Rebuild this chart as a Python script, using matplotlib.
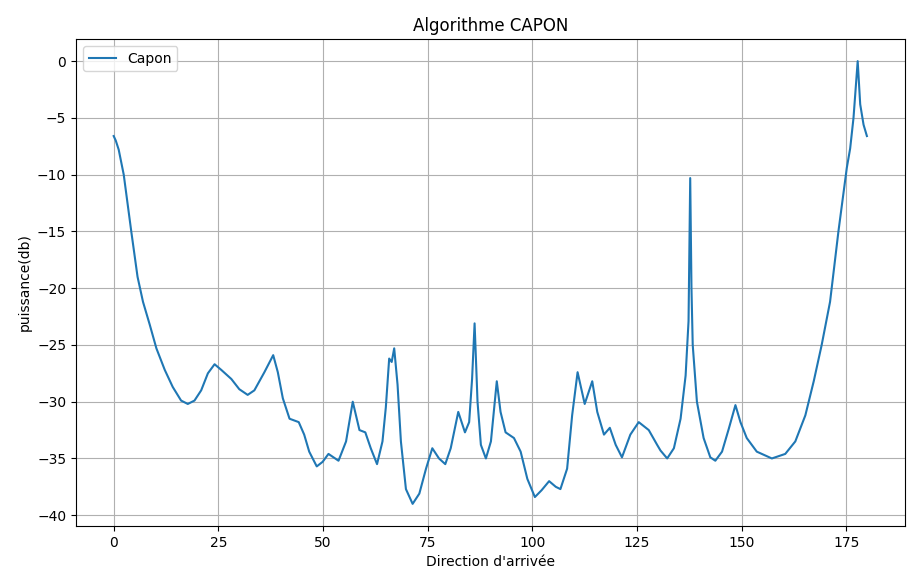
import matplotlib
matplotlib.use("Agg")
import matplotlib.pyplot as plt

# Direction of arrival (degrees) and Capon power (dB)
angle = [0.0, 0.5, 1.2, 2.4, 3.3, 4.2, 5.7, 7.0, 8.6, 10.2, 12.2, 14.1, 16.1,
         17.7, 19.3, 20.9, 22.5, 24.1, 25.7, 28.1, 30.0, 32.0, 33.6, 36.0,
         38.1, 39.2, 40.4, 42.0, 44.2, 45.5, 46.7, 48.5, 49.9, 51.3, 53.7,
         55.5, 57.1, 58.7, 60.1, 61.4, 62.9, 64.2, 65.0, 65.8, 66.4, 67.0,
         67.8, 68.6, 69.8, 71.4, 73.0, 74.6, 76.1, 77.7, 79.2, 80.5, 82.3,
         83.9, 84.9, 85.6, 86.2, 86.6, 86.9, 87.7, 88.9, 90.1, 91.5, 92.4,
         93.6, 95.6, 97.2, 98.8, 100.6, 102.2, 104.0, 105.6, 106.7, 108.3,
         109.5, 110.8, 112.5, 114.3, 115.5, 117.1, 118.5, 119.9, 121.4, 123.4,
         125.4, 127.8, 129.8, 130.6, 132.2, 133.8, 135.4, 136.6, 137.3, 137.7,
         138.0, 138.3, 139.3, 140.9, 142.5, 143.7, 145.3, 146.9, 148.5, 149.7,
         151.2, 153.6, 157.2, 160.4, 162.8, 165.2, 167.2, 169.1, 171.1, 173.1,
         175.1, 175.9, 176.7, 177.7, 178.3, 179.1, 179.9]
power = [-6.6, -7.0, -7.8, -10.0, -12.5, -15.0, -19.0, -21.2, -23.2, -25.3,
         -27.2, -28.7, -29.9, -30.2, -29.9, -29.0, -27.5, -26.7, -27.2, -28.0,
         -28.9, -29.4, -29.0, -27.4, -25.9, -27.4, -29.7, -31.5, -31.8, -32.9,
         -34.4, -35.7, -35.3, -34.6, -35.2, -33.5, -30.0, -32.5, -32.7, -34.1,
         -35.5, -33.5, -30.5, -26.2, -26.5, -25.3, -28.5, -33.5, -37.7, -39.0,
         -38.1, -35.9, -34.1, -35.0, -35.5, -34.1, -30.9, -32.7, -31.8, -28.0,
         -23.1, -27.0, -30.0, -33.8, -35.0, -33.5, -28.2, -30.9, -32.7, -33.2,
         -34.4, -36.8, -38.4, -37.8, -37.0, -37.5, -37.7, -35.9, -31.2, -27.4,
         -30.2, -28.2, -30.9, -32.9, -32.3, -33.8, -34.9, -32.9, -31.8, -32.5,
         -33.8, -34.3, -35.0, -34.1, -31.5, -27.7, -22.9, -10.3, -20.0, -25.0,
         -30.0, -33.2, -34.9, -35.2, -34.4, -32.4, -30.3, -31.8, -33.2, -34.4,
         -35.0, -34.6, -33.5, -31.2, -28.2, -25.0, -21.2, -15.0, -9.4, -7.7,
         -5.0, 0.0, -3.8, -5.6, -6.6]

title = "Algorithme CAPON"
xlabel = "Direction d'arrivée"
ylabel = "puissance(db)"
series_name = "Capon"

fig = plt.figure(figsize=(9.07, 5.78), dpi=100)
ax = fig.add_axes([76 / 907, 1 - 526 / 578, (905 - 76) / 907, (526 - 39) / 578])
ax.plot(angle, power, color="#1f77b4", linewidth=1.5, label=series_name)
ax.set_title(title, fontsize=12)
ax.set_xlabel(xlabel, fontsize=10)
ax.set_ylabel(ylabel, fontsize=10)
ax.set_xlim(-9, 189)
ax.set_ylim(-40.95, 1.95)
ax.set_xticks([0, 25, 50, 75, 100, 125, 150, 175])
ax.set_yticks([0, -5, -10, -15, -20, -25, -30, -35, -40])
ax.grid(True, color="#b0b0b0", linewidth=0.8)
ax.legend(loc="upper left")
fig.savefig("out.png", dpi=100)
